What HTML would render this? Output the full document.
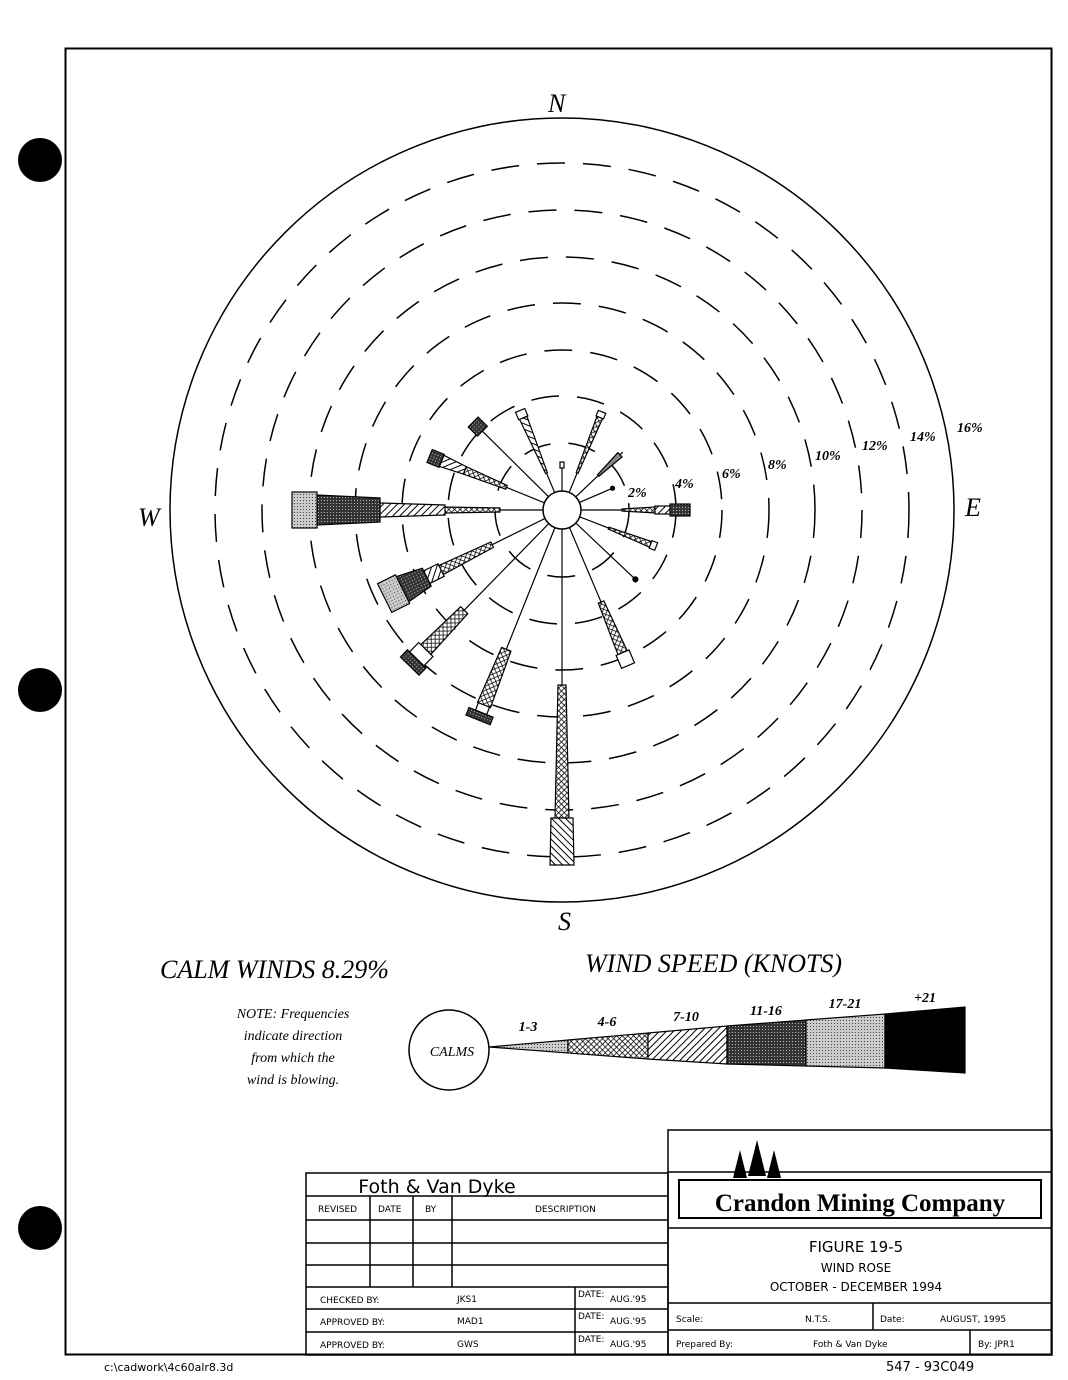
<!DOCTYPE html><html><head><style>body{margin:0;background:#fff}svg{display:block}</style></head><body>
<svg width="1068" height="1380" viewBox="0 0 1068 1380" xmlns="http://www.w3.org/2000/svg" font-family="Liberation Serif, serif">
<defs>
<pattern id="hat" width="5" height="5" patternUnits="userSpaceOnUse" patternTransform="rotate(45)"><rect width="5" height="5" fill="#fff"/><line x1="0" y1="0" x2="0" y2="5" stroke="#000" stroke-width="2"/></pattern>
<pattern id="xh" width="4" height="4" patternUnits="userSpaceOnUse" patternTransform="rotate(45)"><rect width="4" height="4" fill="#fff"/><path d="M0 0H4M0 0V4" stroke="#000" stroke-width="1.5"/></pattern>
<pattern id="dots" width="3" height="3" patternUnits="userSpaceOnUse"><rect width="3" height="3" fill="#ccc"/><rect width="1" height="1" fill="#444"/></pattern>
<pattern id="dk" width="3" height="3" patternUnits="userSpaceOnUse"><rect width="3" height="3" fill="#333"/><rect width="1" height="1" fill="#bbb"/></pattern>
</defs>
<circle cx="40" cy="160" r="22"/><circle cx="40" cy="690" r="22"/><circle cx="40" cy="1228" r="22"/>
<rect x="65.5" y="48.5" width="986" height="1306" fill="none" stroke="#000" stroke-width="2"/>
<circle cx="562" cy="510" r="392" fill="none" stroke="#000" stroke-width="1.5"/>
<g fill="none" stroke="#000" stroke-width="1.5" stroke-dasharray="28 18">
<circle cx="562" cy="510" r="67"/><circle cx="562" cy="510" r="114"/><circle cx="562" cy="510" r="160"/><circle cx="562" cy="510" r="207"/><circle cx="562" cy="510" r="253"/><circle cx="562" cy="510" r="300"/><circle cx="562" cy="510" r="347"/>
</g>
<g font-style="italic" font-size="26"><text x="548" y="112">N</text><text x="558" y="930">S</text><text x="138" y="526">W</text><text x="965" y="516">E</text></g>
<g font-style="italic" font-weight="bold" font-size="14"><text x="628" y="497">2%</text><text x="675" y="488">4%</text><text x="722" y="478">6%</text><text x="768" y="469">8%</text><text x="815" y="460">10%</text><text x="862" y="450">12%</text><text x="910" y="441">14%</text><text x="957" y="432">16%</text></g>
<g transform="translate(562,510)" stroke="#000" stroke-width="1.2">
<g transform="rotate(-90)"><line x1="0" y1="0" x2="46" y2="0"/><rect x="42" y="-2" width="6" height="4" fill="#fff"/></g>
<g transform="rotate(-67.8)"><line x1="0" y1="0" x2="106" y2="0"/><polygon points="40,-1 100,-3 100,3 40,1" fill="url(#xh)"/><rect x="100" y="-4" width="6" height="8" fill="#fff"/></g>
<g transform="rotate(-43.6)"><line x1="0" y1="0" x2="84" y2="0"/><polygon points="50,-1 80,-3 80,3 50,1" fill="#888"/></g>
<g transform="rotate(-23.3)"><line x1="0" y1="0" x2="56" y2="0"/><circle cx="55" cy="0" r="2" fill="#000"/></g>
<g transform="rotate(0)"><line x1="0" y1="0" x2="93" y2="0"/><polygon points="60,-1 93,-3 93,3 60,1" fill="url(#xh)"/><rect x="93" y="-4" width="15" height="8" fill="url(#hat)"/><rect x="108" y="-6" width="20" height="12" fill="url(#dk)"/></g>
<g transform="rotate(21.2)"><line x1="0" y1="0" x2="100" y2="0"/><polygon points="50,-1 95,-3 95,3 50,1" fill="url(#xh)"/><rect x="95" y="-4" width="6" height="8" fill="#fff"/></g>
<g transform="rotate(43.4)"><line x1="0" y1="0" x2="102" y2="0"/><circle cx="101" cy="0" r="2.5" fill="#000"/></g>
<g transform="rotate(67)"><line x1="0" y1="0" x2="100" y2="0"/><polygon points="100,-3 155,-5 155,5 100,3" fill="url(#xh)"/><rect x="155" y="-7" width="14" height="14" fill="#fff"/></g>
<g transform="rotate(90)"><line x1="0" y1="0" x2="175" y2="0"/><polygon points="175,-4 308,-7 308,7 175,4" fill="url(#xh)"/><polygon points="308,-11 355,-12 355,12 308,11" fill="url(#hat)"/></g>
<g transform="rotate(111.8)"><line x1="0" y1="0" x2="150" y2="0"/><polygon points="150,-5 210,-7 210,7 150,5" fill="url(#xh)"/><rect x="210" y="-6" width="8" height="12" fill="#fff"/><rect x="218" y="-13" width="8" height="26" fill="url(#dk)"/></g>
<g transform="rotate(134.3)"><line x1="0" y1="0" x2="140" y2="0"/><polygon points="140,-5 195,-7 195,7 140,5" fill="url(#xh)"/><rect x="195" y="-10" width="13" height="20" fill="#fff"/><rect x="208" y="-13" width="10" height="26" fill="url(#dk)"/></g>
<g transform="rotate(153.6)"><line x1="0" y1="0" x2="78" y2="0"/><polygon points="78,-3 135,-5 135,5 78,3" fill="url(#xh)"/><rect x="135" y="-7" width="16" height="14" fill="url(#hat)"/><polygon points="151,-10 178,-14 178,14 151,10" fill="url(#dk)"/><rect x="178" y="-16" width="20" height="32" fill="url(#dots)"/></g>
<g transform="rotate(180)"><line x1="0" y1="0" x2="62" y2="0"/><polygon points="62,-2 117,-3 117,3 62,2" fill="url(#xh)"/><polygon points="117,-5 182,-7 182,7 117,5" fill="url(#hat)"/><polygon points="182,-12 245,-15 245,15 182,12" fill="url(#dk)"/><rect x="245" y="-18" width="25" height="36" fill="url(#dots)"/></g>
<g transform="rotate(-157.8)"><line x1="0" y1="0" x2="60" y2="0"/><polygon points="60,-2 105,-4 105,4 60,2" fill="url(#xh)"/><polygon points="105,-4 130,-6 130,6 105,4" fill="url(#hat)"/><rect x="130" y="-7" width="13" height="14" fill="url(#dk)"/></g>
<g transform="rotate(-135.3)"><line x1="0" y1="0" x2="112" y2="0"/><rect x="112" y="-7" width="13" height="14" fill="url(#dk)"/></g>
<g transform="rotate(-112.8)"><line x1="0" y1="0" x2="40" y2="0"/><polygon points="40,-1 100,-4 100,4 40,1" fill="url(#hat)"/><rect x="100" y="-5" width="8" height="10" fill="#fff"/></g>
<circle cx="0" cy="0" r="19" fill="#fff" stroke-width="1.5"/>
</g>
<g font-style="italic">
<text x="160" y="978" font-size="26">CALM WINDS 8.29%</text>
<text x="585" y="972" font-size="26">WIND SPEED (KNOTS)</text>
<g font-size="14" text-anchor="middle"><text x="293" y="1018">NOTE: Frequencies</text><text x="293" y="1040">indicate direction</text><text x="293" y="1062">from which the</text><text x="293" y="1084">wind is blowing.</text></g>
<g font-size="14" font-weight="bold" text-anchor="middle"><text x="528" y="1031">1-3</text><text x="607" y="1026">4-6</text><text x="686" y="1021">7-10</text><text x="766" y="1015">11-16</text><text x="845" y="1008">17-21</text><text x="925" y="1002">+21</text></g>
<text x="452" y="1056" font-size="14" text-anchor="middle">CALMS</text>
</g>
<circle cx="449" cy="1050" r="40" fill="none" stroke="#000" stroke-width="1.5"/>
<g stroke="#000" stroke-width="1.2">
<polygon points="489,1047 568,1040 568,1053" fill="url(#dots)"/>
<polygon points="568,1040 648,1033 648,1059 568,1053" fill="url(#xh)"/>
<polygon points="648,1033 727,1026 727,1064 648,1059" fill="url(#hat)"/>
<polygon points="727,1026 806,1020 806,1066 727,1064" fill="url(#dk)"/>
<polygon points="806,1020 885,1014 885,1068 806,1066" fill="url(#dots)"/>
<polygon points="885,1014 965,1007 965,1073 885,1068" fill="#000"/>
</g>
<g fill="none" stroke="#000" stroke-width="1.5">
<rect x="306" y="1173" width="362" height="182"/>
<path d="M306 1196H668M306 1220H668M306 1243H668M306 1265H668M306 1287H668M306 1309H668M306 1332H668M370 1196V1287M413 1196V1287M452 1196V1287M575 1287V1355"/>
<rect x="668" y="1130" width="384" height="225"/>
<path d="M668 1172H1052M668 1228H1052M668 1303H1052M668 1330H1052M873 1303V1330M970 1330V1355"/>
<rect x="679" y="1180" width="362" height="38" stroke-width="2"/>
</g>
<g fill="#000"><polygon points="740,1150 733,1178 747,1178"/><polygon points="757,1140 748,1176 766,1176"/><polygon points="774,1150 767,1178 781,1178"/></g>
<g font-family="DejaVu Sans, sans-serif">
<text x="437" y="1193" font-size="19" text-anchor="middle">Foth &amp; Van Dyke</text>
<g font-size="9"><text x="318" y="1212">REVISED</text><text x="378" y="1212">DATE</text><text x="425" y="1212">BY</text><text x="535" y="1212">DESCRIPTION</text>
<text x="320" y="1303">CHECKED BY:</text><text x="457" y="1302">JKS1</text><text x="578" y="1297">DATE:</text><text x="610" y="1302">AUG.'95</text>
<text x="320" y="1325">APPROVED BY:</text><text x="457" y="1324">MAD1</text><text x="578" y="1319">DATE:</text><text x="610" y="1324">AUG.'95</text>
<text x="320" y="1348">APPROVED BY:</text><text x="457" y="1347">GWS</text><text x="578" y="1342">DATE:</text><text x="610" y="1347">AUG.'95</text>
<text x="676" y="1322">Scale:</text><text x="805" y="1322">N.T.S.</text><text x="880" y="1322">Date:</text><text x="940" y="1322">AUGUST, 1995</text>
<text x="676" y="1347">Prepared By:</text><text x="813" y="1347">Foth &amp; Van Dyke</text><text x="978" y="1347">By: JPR1</text></g>
<g text-anchor="middle"><text x="856" y="1252" font-size="15">FIGURE 19-5</text><text x="856" y="1272" font-size="12">WIND ROSE</text><text x="856" y="1291" font-size="12">OCTOBER - DECEMBER 1994</text></g>
<text x="886" y="1371" font-size="13">547 -  93C049</text>
<text x="104" y="1371" font-size="11">c:\cadwork\4c60alr8.3d</text>
</g>
<text x="860" y="1211" font-size="25" font-weight="bold" text-anchor="middle">Crandon Mining Company</text>
</svg></body></html>
